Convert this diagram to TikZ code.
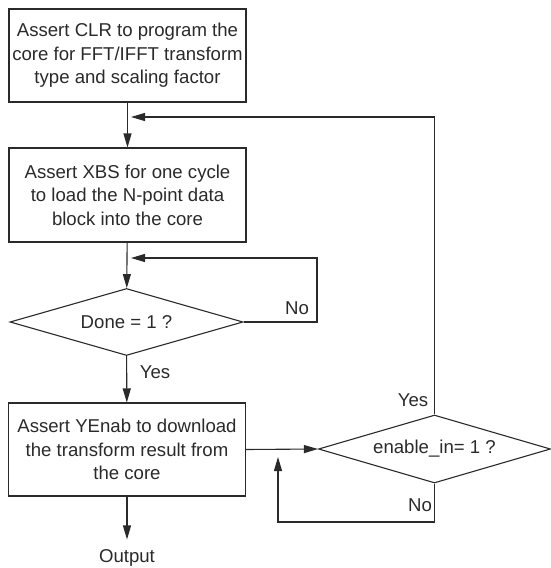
\documentclass[tikz,border=0pt]{standalone}
\usepackage{fontspec}
\setmainfont{Liberation Sans}
\usetikzlibrary{shapes.geometric,arrows.meta}
\definecolor{ink}{HTML}{2A2A2A}

\begin{document}
\begin{tikzpicture}[x=1pt,y=-1pt,line width=1.1pt,ink,
		>={Triangle[length=14pt,width=8pt]},
		blok/.style={draw,rectangle,minimum width=237pt,minimum height=93pt,inner sep=0pt,align=center},
		ruit/.style={draw,diamond,minimum width=233pt,minimum height=67pt,inner sep=0pt,aspect=3.5},
		lbl/.style={inner sep=0pt}]
			\useasboundingbox (0,0) rectangle (550,568);
			\fontsize{18.6}{23.5}\selectfont
				\node [blok] (clr) at (127.5,55.5) {Assert CLR to program the\\core for FFT/IFFT transform\\type and scaling factor};
				\node [blok,minimum height=94pt] (xbs) at (127.5,195) {Assert XBS for one cycle\\to load the N-point data\\block into the core};
				\node [ruit] (done) at (126.5,322) {Done = 1 ?};
				\node [blok] (yen) at (127,449.5) {Assert YEnab to download\\the transform result from\\the core};
				\node [ruit,minimum width=232pt,minimum height=68pt] (enab) at (434.5,449) {enable\_in= 1 ?};
				\node [lbl,anchor=base] (out) at (127,562) {Output};
				
				\coordinate (in1) at (131,117);
				\coordinate (in2) at (131,258);
				\coordinate (in3) at (278,457);
				\coordinate (loopA) at (317,258);
				\coordinate (loopB) at (278,522);
				
				\node [lbl] (no1) at (297,308) {No};
				\node [lbl] (yes1) at (155,372) {Yes};
				\node [lbl] (yes2) at (413,400) {Yes};
				\node [lbl] (no2) at (420,505) {No};
				
				\draw [->] (clr)--(xbs);
				\draw [->] (xbs)--(done);
				\draw [->] (done)--(yen);
				\draw [->] (yen.south)--([yshift=9pt]out.north);
				\draw [->] (yen.east)--(enab.west);
				\draw [->] (done.east)-|(loopA)--(in2);
				\draw [->] (enab.south)|-(loopB)--(in3);
				\draw [->] (enab.north)|-(in1);
\end{tikzpicture}
\end{document}
